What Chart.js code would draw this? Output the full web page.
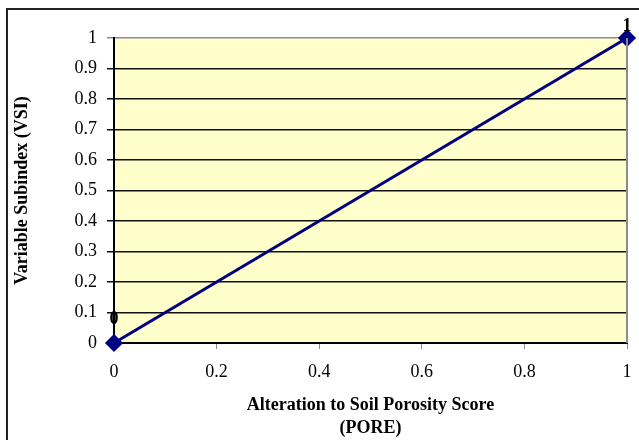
<!DOCTYPE html>
<html>
<head>
<meta charset="utf-8">
<script src="https://cdn.jsdelivr.net/npm/chart.js@4/dist/chart.umd.min.js"></script>
<style>
  html, body { margin: 0; padding: 0; background: #fff; }
  #wrap { width: 639px; height: 440px; }
</style>
</head>
<body>
<div id="wrap"><canvas id="c" width="639" height="440"></canvas></div>
<script>
// Alteration to Soil Porosity Score (PORE) -> Variable Subindex (VSI)
const poreScore = [0, 1];
const vsiValues = [0, 1];
const pointLabels = ["0", "1"];

const serif = "'Liberation Serif', 'Times New Roman', serif";
const fmt = (v) => String(+Number(v).toFixed(1));
const labelLift = [24, 12]; // px above each marker, as in the original

// outer frame + yellow plot area + right border + point labels
const decor = {
  id: "decor",
  beforeDraw(chart) {
    const { ctx, chartArea: a } = chart;
    ctx.save();
    ctx.strokeStyle = "#222";
    ctx.lineWidth = 2;
    ctx.strokeRect(7, 9, 700, 700);
    ctx.fillStyle = "#ffffcc";
    ctx.fillRect(a.left, a.top, a.right - a.left, a.bottom - a.top);
    ctx.restore();
  },
  afterDatasetsDraw(chart) {
    const { ctx, chartArea: a } = chart;
    ctx.save();
    ctx.strokeStyle = "#8c8c8c";
    ctx.lineWidth = 2;
    ctx.beginPath();
    ctx.moveTo(a.right, a.top);
    ctx.lineTo(a.right, a.bottom);
    ctx.stroke();
    const meta = chart.getDatasetMeta(0);
    ctx.fillStyle = "#000";
    ctx.font = "bold 18px " + serif;
    ctx.textAlign = "center";
    ctx.textBaseline = "middle";
    meta.data.forEach((pt, i) => {
      ctx.fillText(pointLabels[i], pt.x, pt.y - labelLift[i]);
    });
    ctx.restore();
  },
};

new Chart(document.getElementById("c"), {
  type: "scatter",
  data: {
    datasets: [{
      data: poreScore.map((x, i) => ({ x, y: vsiValues[i] })),
      showLine: true,
      borderColor: "#000080",
      backgroundColor: "#000080",
      borderWidth: 3,
      pointStyle: "rectRot",
      pointRadius: 7,
      pointHoverRadius: 7,
      clip: false,
    }],
  },
  options: {
    responsive: false,
    animation: false,
    events: [],
    layout: { padding: { left: 0, right: 12, top: 38, bottom: 0 } },
    plugins: { legend: { display: false }, tooltip: { enabled: false } },
    scales: {
      x: {
        type: "linear",
        min: 0,
        max: 1,
        afterFit: (s) => { s.height = 97; s.paddingRight = 0; },
        ticks: { stepSize: 0.2, padding: 12, color: "#000", font: { family: serif, size: 18 }, callback: fmt },
        grid: { drawOnChartArea: false, drawTicks: true, tickLength: 6, color: "#8c8c8c" },
        border: { color: "#000", width: 2 },
        title: {
          display: true,
          text: ["Alteration to Soil Porosity Score", "(PORE)"],
          color: "#000",
          font: { family: serif, size: 18, weight: "bold", lineHeight: 23 / 18 },
          padding: { top: 0, bottom: 0.5 },
        },
      },
      y: {
        type: "linear",
        min: 0,
        max: 1,
        afterFit: (s) => { s.width = 114; },
        ticks: { stepSize: 0.1, padding: 10, color: "#000", font: { family: serif, size: 18 }, callback: fmt },
        grid: {
          tickLength: 7,
          lineWidth: 1.5,
          color: (c) => (c.tick && c.tick.value === 1 ? "#8c8c8c" : "#111"),
        },
        border: { color: "#000", width: 2 },
        title: {
          display: true,
          text: "Variable Subindex (VSI)",
          color: "#000",
          font: { family: serif, size: 18, weight: "bold" },
          padding: { top: 12, bottom: 0 },
        },
      },
    },
  },
  plugins: [decor],
});
</script>
</body>
</html>
